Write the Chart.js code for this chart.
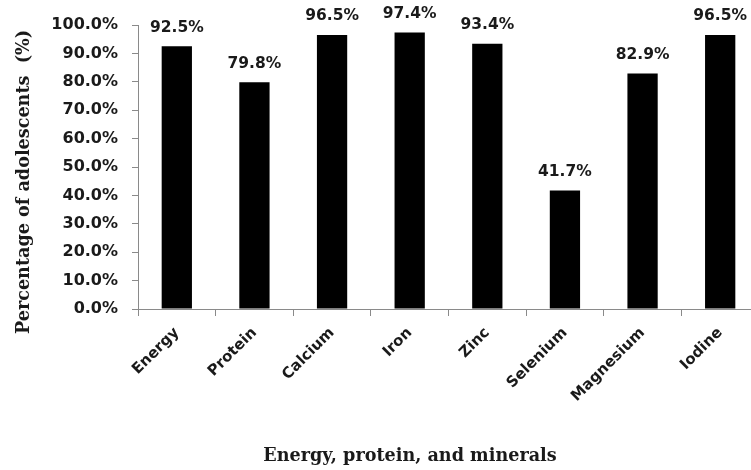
<!DOCTYPE html>
<html>
<head>
<meta charset="utf-8">
<script src="https://cdn.jsdelivr.net/npm/chart.js@4"></script>
<style>
  html, body { margin: 0; padding: 0; background: #fff; overflow: hidden; }
  #wrap { width: 760px; height: 470px; }
</style>
</head>
<body>
<div id="wrap"><canvas id="chNutrients" width="760" height="470"></canvas></div>
<script>
// Nutrient inadequacy among adolescents

const categories = ['Energy', 'Protein', 'Calcium', 'Iron', 'Zinc', 'Selenium', 'Magnesium', 'Iodine'];
const percentValues = [92.5, 79.8, 96.5, 97.4, 93.4, 41.7, 82.9, 96.5];
const yTicks = [0, 10, 20, 30, 40, 50, 60, 70, 80, 90, 100];
const xTitle = 'Energy, protein, and minerals';
const yTitle = 'Percentage of adolescents  (%)';

const textColor = '#1a1a1a';
const axisColor = '#8a8a8a';
const tickFont = { family: 'DejaVu Sans', size: 16, weight: 'bold' };

// value labels above each bar
const barLabels = {
    id: 'barLabels',
    afterDatasetsDraw(chart) {
        const ctx = chart.ctx;
        const meta = chart.getDatasetMeta(0);
        ctx.save();
        ctx.font = 'bold 15.5px "DejaVu Sans"';
        ctx.fillStyle = textColor;
        ctx.textAlign = 'center';
        ctx.textBaseline = 'bottom';
        meta.data.forEach((bar, i) => {
            ctx.fillText(percentValues[i].toFixed(1) + '%', bar.x, bar.y - 11);
        });
        ctx.restore();
    }
};

// axis titles (placed like the original, not centred on the plot)
const axisTitles = {
    id: 'axisTitles',
    afterDraw(chart) {
        const ctx = chart.ctx;
        ctx.save();
        ctx.font = 'bold 17.6px "DejaVu Serif"';
        ctx.fillStyle = textColor;
        ctx.textAlign = 'center';
        ctx.textBaseline = 'middle';
        ctx.fillText(xTitle, 410, 456);
        ctx.translate(24, 182);
        ctx.rotate(-Math.PI / 2);
        ctx.fillText(yTitle, 0, 0);
        ctx.restore();
    }
};

new Chart(document.getElementById('chNutrients').getContext('2d'), {
    type: 'bar',
    data: {
        labels: categories,
        datasets: [{
            data: percentValues,
            backgroundColor: '#000',
            borderColor: '#000',
            borderWidth: 0,
            barPercentage: 0.39,
            categoryPercentage: 1.0
        }]
    },
    options: {
        responsive: false,
        animation: false,
        layout: { padding: { top: 25, right: 1, bottom: 0, left: 0 } },
        plugins: {
            legend: { display: false },
            tooltip: { enabled: false }
        },
        scales: {
            x: {
                grid: { display: true, drawOnChartArea: false, offset: true, color: axisColor, tickLength: 7 },
                border: { color: axisColor, width: 1 },
                ticks: {
                    color: textColor,
                    font: { family: 'DejaVu Sans', size: 15, weight: 'bold' },
                    maxRotation: 45,
                    minRotation: 45,
                    padding: 8
                },
                afterFit(scale) { scale.height = 161; }
            },
            y: {
                min: 0,
                max: 100,
                afterBuildTicks(scale) { scale.ticks = yTicks.map(v => ({ value: v })); },
                grid: { display: true, drawOnChartArea: false, color: axisColor, tickLength: 6 },
                border: { color: axisColor, width: 1 },
                ticks: {
                    color: textColor,
                    font: tickFont,
                    padding: 14,
                    callback: v => v.toFixed(1) + '%'
                },
                afterFit(scale) { scale.width = 138; }
            }
        }
    },
    plugins: [barLabels, axisTitles]
});
</script>
</body>
</html>
